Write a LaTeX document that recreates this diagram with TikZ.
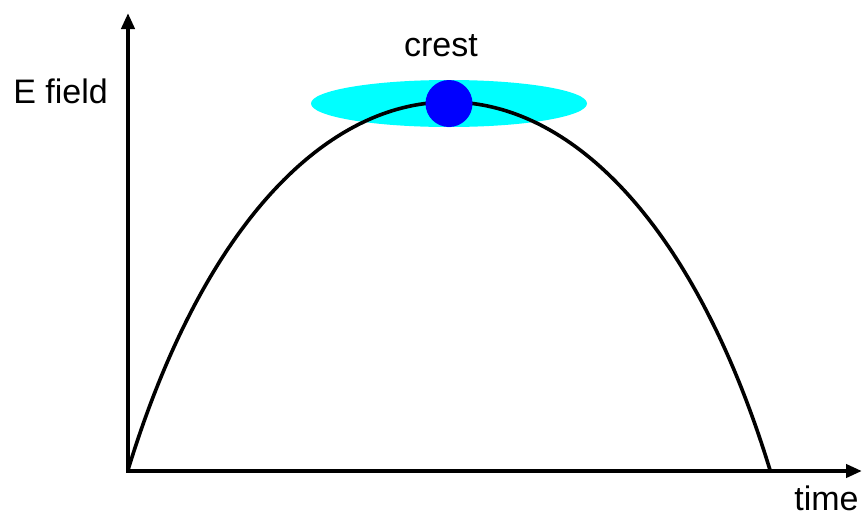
\documentclass[tikz,border=0pt]{standalone}
\usepackage{fontspec}
\setmainfont{Liberation Sans}
\usetikzlibrary{arrows.meta,shapes.geometric}
\definecolor{halocyan}{RGB}{0,255,255}
\definecolor{bunchblue}{RGB}{0,0,255}
\tikzset{
  axisline/.style={line width=4pt, line join=miter, {Triangle[length=16pt,width=13pt]}-{Triangle[length=16pt,width=13pt]}},
  wave/.style={line width=3.6pt},
  lbl/.style={font=\fontsize{34}{40}\selectfont, inner sep=0pt, anchor=base},
  halostyle/.style={ellipse, fill=halocyan, minimum width=276pt, minimum height=47pt, inner sep=0pt},
  bunchstyle/.style={circle, fill=bunchblue, minimum size=47pt, inner sep=0pt}
}
\begin{document}
\begin{tikzpicture}[x=1pt,y=-1pt]
\useasboundingbox (0,0) rectangle (866,517);
% axes
\coordinate (ytip) at (128,13);
\coordinate (orig) at (128,471);
\coordinate (xtip) at (862,471);
\draw[axisline] (ytip) -- (orig) -- (xtip);
% halo
\node[halostyle] (halo) at (449,103.5) {};
% field curve
\coordinate (cs) at (128,470);
\coordinate (ce) at (770,470);
\draw[wave] (cs) .. controls (278,-20.7) and (620,-20.7) .. (ce);
% bunch
\node[bunchstyle] (bunch) at (449,103.5) {};
% labels
\node[lbl] (crest) at (441,56) {crest};
\node[lbl] (efield) at (60.5,103) {E field};
\node[lbl] (time) at (826.5,510) {time};
\end{tikzpicture}
\end{document}
